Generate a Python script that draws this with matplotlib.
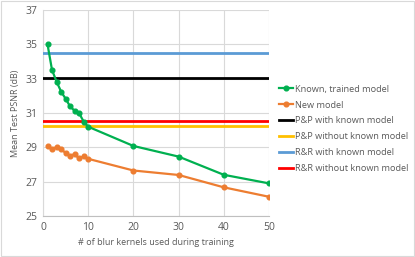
import matplotlib.pyplot as plt

# kernel counts used during training
kernels = [1, 2, 3, 4, 5, 6, 7, 8, 9, 10, 20, 30, 40, 50]
known_trained = [35.0, 33.5, 32.83, 32.25, 31.83, 31.38, 31.13, 30.98, 30.5, 30.2,
                 29.08, 28.46, 27.4, 26.9]
new_model = [29.08, 28.9, 29.02, 28.93, 28.65, 28.52, 28.6, 28.35, 28.48, 28.33,
             27.65, 27.39, 26.67, 26.12]

# reference levels (horizontal lines)
pp_known = 33.02
pp_unknown = 30.25
rr_known = 34.52
rr_unknown = 30.55

text_color = '#595959'
plt.rcParams['font.family'] = ['Open Sans', 'DejaVu Sans']
plt.rcParams['font.size'] = 6.5

fig = plt.figure(figsize=(4.15, 2.57), dpi=100)
ax = fig.add_axes([43 / 415, 1 - 216 / 257, 226 / 415, 206 / 257])

ax.plot(kernels, known_trained, color='#00B050', lw=1.6, marker='o', ms=3.4,
        label='Known, trained model', zorder=4)
ax.plot(kernels, new_model, color='#ED7D31', lw=1.6, marker='o', ms=3.4,
        label='New model', zorder=4)
ax.axhline(pp_known, color='black', lw=2, label='P&P with known model', zorder=3)
ax.axhline(pp_unknown, color='#FFC000', lw=2, label='P&P without known model', zorder=3)
ax.axhline(rr_known, color='#5B9BD5', lw=2, label='R&R with known model', zorder=3)
ax.axhline(rr_unknown, color='#FF0000', lw=2, label='R&R without known model', zorder=3)

ax.set_xlim(0, 50)
ax.set_ylim(25, 37)
ax.set_xticks(range(0, 51, 10))
ax.set_yticks(range(25, 38, 2))
ax.grid(True, color='#D9D9D9', lw=0.8)
ax.set_axisbelow(True)
for side in ['top', 'right']:
    ax.spines[side].set_visible(False)
ax.spines['left'].set_color('#D9D9D9')
ax.spines['bottom'].set_color('#BFBFBF')
ax.tick_params(length=0, colors=text_color, labelsize=7.5, pad=4)

ax.set_xlabel('# of blur kernels used during training', color=text_color, fontsize=6.5, labelpad=4)
ax.set_ylabel('Mean Test PSNR (dB)', color=text_color, fontsize=6.5, labelpad=4)

leg = fig.legend(loc='upper left', bbox_to_anchor=(275 / 415, 1 - 81 / 257), frameon=False,
                 fontsize=6.6, handlelength=1.6, handletextpad=0.2, labelspacing=0.75,
                 borderaxespad=0)
for t in leg.get_texts():
    t.set_color(text_color)

fig.patches.append(plt.Rectangle((0.002, 0.003), 0.995, 0.993, transform=fig.transFigure,
                                 fill=False, edgecolor='#D9D9D9', lw=0.8))

fig.savefig('out.png', dpi=100)
